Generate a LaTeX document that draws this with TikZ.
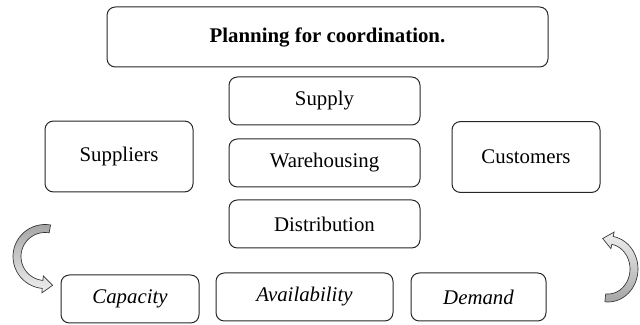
\documentclass[tikz,border=0pt]{standalone}
\usepackage{fontspec}
\setmainfont{Liberation Serif}
\usetikzlibrary{shadings}
\tikzset{
  % rounded boxes of the scheme
  stage/.style={
    draw=black!85,line width=0.6pt,rounded corners=5pt,
    inner sep=0pt,font=\fontsize{12.5}{15}\selectfont,
  },
  titlebox/.style={stage,minimum width=264.6pt,minimum height=36pt,font=\fontsize{12.5}{15}\selectfont\bfseries},
  sidebox/.style={stage,minimum width=88.8pt,minimum height=42.5pt},
  midbox/.style={stage,minimum width=114.6pt,minimum height=28.8pt},
  lowbox/.style={stage,minimum height=28.8pt},
  % curved hollow arrows at the corners
  turnleft/.style={draw=black!80,line width=0.4pt,top color=gray!70,bottom color=gray!12},
  turnright/.style={draw=black!80,line width=0.4pt,top color=gray!12,bottom color=gray!70},
}
\begin{document}
\begin{tikzpicture}[x=0.6pt,y=-0.6pt]
  \useasboundingbox (0,0) rectangle (640,325);

  \node[titlebox] (plan) at (327.5,37) {Planning for coordination.};

  \node[sidebox] (suppliers) at (119,156.5) {Suppliers};
  \node[sidebox] (customers) at (526,157) {Customers};

  \node[midbox] (supply) at (324.5,101) {Supply};
  \node[midbox] (warehousing) at (324.5,163) {Warehousing};
  \node[midbox] (distribution) at (324.5,224) {Distribution};

  \node[lowbox,minimum width=82.8pt] (capacity) at (130,299) {\itshape Capacity};
  \node[lowbox,minimum width=106.2pt] (availability) at (304.5,297) {\itshape Availability};
  \node[lowbox,minimum width=81pt] (demand) at (478.5,297) {\itshape Demand};

  % left arrow, bending down into Capacity
  \path[turnleft]
    plot[domain=80:265,smooth,samples=30] ({45+32*cos(\x)},{256.5-32*sin(\x)})
    -- (41.9,292.9) -- (52.6,285.3) -- (43.3,275.9)
    -- plot[domain=265:80,smooth,samples=30] ({45+24*cos(\x)},{256.5-24*sin(\x)})
    -- cycle;

  % right arrow, bending up from Demand
  \path[turnright]
    plot[domain=-96:80,smooth,samples=30] ({608+30*cos(\x)},{269-33*sin(\x)})
    -- (614.1,232.1) -- (602.7,238.5) -- (610.9,248.7)
    -- plot[domain=80:-96,smooth,samples=30] ({608+22*cos(\x)},{269-25*sin(\x)})
    -- cycle;
\end{tikzpicture}
\end{document}
